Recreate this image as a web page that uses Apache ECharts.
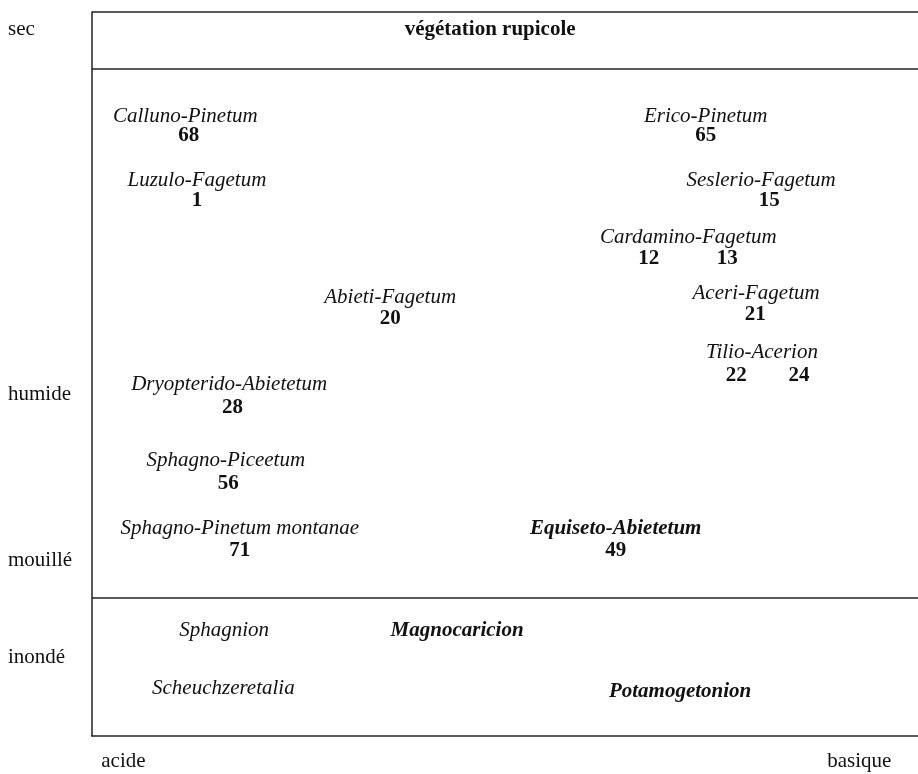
<!DOCTYPE html>
<html>
<head>
<meta charset="utf-8">
<script src="https://cdn.jsdelivr.net/npm/echarts@6/dist/echarts.min.js"></script>
<style>
  html, body { margin: 0; padding: 0; background: #fff; }
  #chart { width: 918px; height: 774px; }
</style>
</head>
<body>
<div id="chart"></div>
<script>
// axes: x = acide (0) .. basique (100), y = inondé (0) .. sec (100)
const xTickValues = [3.8, 92.9];
const xTickLabels = ['acide', 'basique'];
const yTickValues = [97.6, 47.2, 24.3, 10.9];
const yTickLabels = ['sec', 'humide', 'mouillé', 'inondé'];

// zone dividers (y)
const zoneLines = [100, 92.1, 19.1];

// header zone
const headerNames = ['végétation rupicole'];
const headerX = [48.2];
const headerY = [97.6];

// associations (italic)
const assocNames = ['Calluno-Pinetum', 'Luzulo-Fagetum', 'Erico-Pinetum', 'Seslerio-Fagetum',
  'Cardamino-Fagetum', 'Abieti-Fagetum', 'Aceri-Fagetum', 'Tilio-Acerion',
  'Dryopterido-Abietetum', 'Sphagno-Piceetum', 'Sphagno-Pinetum montanae',
  'Sphagnion', 'Scheuchzeretalia'];
const assocX = [11.3, 12.7, 74.3, 81.0, 72.2, 36.1, 80.4, 81.1, 16.6, 16.2, 17.9, 16.0, 15.9];
const assocY = [85.6, 76.7, 85.6, 76.7, 68.9, 60.5, 61.1, 53.0, 48.5, 38.0, 28.6, 14.6, 6.6];

// associations (bold italic)
const boldNames = ['Equiseto-Abietetum', 'Magnocaricion', 'Potamogetonion'];
const boldX = [63.4, 44.2, 71.2];
const boldY = [28.6, 14.5, 6.1];

// unit numbers
const unitNums = ['68', '1', '65', '15', '12', '13', '20', '21', '22', '24', '28', '56', '71', '49'];
const unitX = [11.7, 12.7, 74.3, 82.0, 67.4, 76.9, 36.1, 80.3, 78.0, 85.6, 17.0, 16.5, 17.9, 63.4];
const unitY = [82.9, 73.9, 82.9, 73.9, 66.0, 66.0, 57.6, 58.2, 49.8, 49.8, 45.3, 34.8, 25.6, 25.6];

const serif = 'Liberation Serif';
const ink = '#111';
const fs = 21;

function points(names, xs, ys) {
  return names.map((n, i) => ({ name: n, value: [xs[i], ys[i]] }));
}

function textSeries(name, data, style) {
  return {
    name: name,
    type: 'scatter',
    symbolSize: 0,
    silent: true,
    itemStyle: { opacity: 1 },
    data: data,
    label: Object.assign({
      show: true,
      position: 'inside',
      formatter: '{b}',
      color: ink,
      opacity: 1,
      fontFamily: serif,
      fontSize: fs
    }, style)
  };
}

const chart = echarts.init(document.getElementById('chart'));

const option = {
  animation: false,
  backgroundColor: '#fff',
  grid: { left: 92, right: 0, top: 12, bottom: 38 },
  xAxis: {
    type: 'value',
    min: 0,
    max: 100,
    splitLine: { show: false },
    axisTick: { show: false },
    axisLine: { show: true, lineStyle: { color: '#222', width: 1.5 } },
    axisLabel: {
      customValues: xTickValues,
      formatter: v => xTickLabels[xTickValues.indexOf(v)],
      margin: 15,
      color: ink,
      fontFamily: serif,
      fontSize: fs
    }
  },
  yAxis: {
    type: 'value',
    min: 0,
    max: 100,
    splitLine: { show: false },
    axisTick: { show: false },
    axisLine: { show: true, lineStyle: { color: '#222', width: 1.5 } },
    axisLabel: {
      customValues: yTickValues,
      formatter: v => yTickLabels[yTickValues.indexOf(v)],
      align: 'left',
      margin: 84,
      color: ink,
      fontFamily: serif,
      fontSize: fs
    }
  },
  series: [
    Object.assign(textSeries('header', points(headerNames, headerX, headerY), { fontWeight: 'bold' }), {
      markLine: {
        silent: true,
        symbol: 'none',
        label: { show: false },
        lineStyle: { color: '#222', width: 1.5, type: 'solid' },
        data: zoneLines.map(y => ({ yAxis: y }))
      }
    }),
    textSeries('associations', points(assocNames, assocX, assocY), { fontStyle: 'italic' }),
    textSeries('associations bold', points(boldNames, boldX, boldY), { fontStyle: 'italic', fontWeight: 'bold' }),
    textSeries('units', points(unitNums, unitX, unitY), { fontWeight: 'bold' })
  ]
};

chart.setOption(option);
</script>
</body>
</html>
